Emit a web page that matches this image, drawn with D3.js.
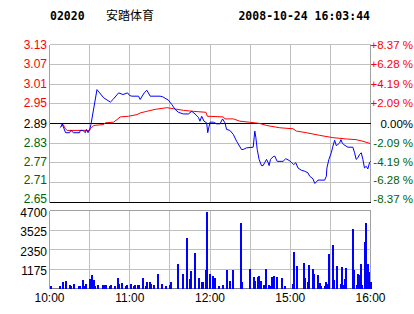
<!DOCTYPE html>
<html><head><meta charset="utf-8">
<script src="https://cdn.jsdelivr.net/npm/d3@7"></script>
<style>body{margin:0;background:#fff}svg{display:block}</style>
</head><body>
<svg id="c" width="414" height="314"></svg>
<script>
// ---------- data ----------
const stockCode = "02020";
const stockName = "安踏体育";
const stamp = "2008-10-24 16:03:44";
const prevClose = 2.89;
const priceTicks = [3.13, 3.07, 3.01, 2.95, 2.89, 2.83, 2.77, 2.71, 2.65];
const pctLabels = ["+8.37 %", "+6.28 %", "+4.19 %", "+2.09 %", "0.00%", "-2.09 %", "-4.19 %", "-6.28 %", "-8.37 %"];
const volTicks = [1175, 2350, 3525, 4700];
const timeTickMins = [0, 60, 120, 180, 240];
const timeTickLabels = ["10:00", "11:00", "12:00", "15:00", "16:00"];

// minutes of trading since 10:00 (12:30 and 14:30 joined at 150)
const priceMins = [8.5, 9.5, 12, 15, 16, 18, 22.5, 23, 25, 26.8, 27.6, 28.8, 30, 31, 35.5, 37.5, 40.5, 45.5, 47.5, 51.7, 54.9, 58.4, 59.9, 61.6, 66.6, 67.8, 70.8, 72.8, 75.3, 82.7, 84.7, 88.9, 91.4, 93.9, 96.4, 100, 103.8, 106.4, 108.8, 111.3, 112.5, 113.8, 115.5, 117.5, 118.3, 120, 122.5, 125, 127.5, 129.4, 131.2, 132.4, 134.9, 137.4, 139.9, 143.6, 144.8, 147.3, 152.3, 153.5, 154.3, 155.3, 156.7, 158.5, 159.7, 161, 162.3, 163.5, 164.2, 165.2, 167.2, 168.4, 170.2, 174.6, 176.6, 179.1, 180.9, 182.6, 184.1, 185.8, 188.3, 190.8, 193.3, 194.5, 197, 198.3, 199.5, 200.7, 205.7, 207, 207.4, 208.9, 210.7, 211.9, 213.2, 214.4, 215.6, 216.9, 217.9, 218.9, 219.9, 223.1, 226.8, 228.1, 229.3, 230.6, 231.8, 233.1, 234.3, 235.5, 236.8, 238, 239.3, 240];
const priceVals = [2.880, 2.889, 2.862, 2.862, 2.869, 2.862, 2.862, 2.869, 2.869, 2.862, 2.872, 2.862, 2.872, 2.887, 2.993, 2.983, 2.968, 2.955, 2.963, 2.983, 2.978, 2.983, 2.975, 2.973, 2.973, 2.963, 2.983, 2.991, 2.973, 2.973, 2.971, 2.961, 2.948, 2.933, 2.924, 2.919, 2.919, 2.927, 2.919, 2.909, 2.897, 2.912, 2.897, 2.892, 2.862, 2.894, 2.894, 2.889, 2.889, 2.904, 2.892, 2.872, 2.869, 2.857, 2.836, 2.811, 2.811, 2.816, 2.818, 2.867, 2.847, 2.811, 2.781, 2.762, 2.762, 2.772, 2.781, 2.771, 2.762, 2.781, 2.789, 2.791, 2.775, 2.775, 2.783, 2.778, 2.772, 2.765, 2.771, 2.755, 2.748, 2.745, 2.740, 2.730, 2.722, 2.708, 2.712, 2.718, 2.718, 2.730, 2.755, 2.781, 2.801, 2.821, 2.839, 2.823, 2.826, 2.831, 2.841, 2.831, 2.826, 2.818, 2.818, 2.801, 2.781, 2.786, 2.796, 2.801, 2.781, 2.755, 2.760, 2.752, 2.771, 2.775];

const avgMins = [7.7, 10.2, 11.9, 13.2, 30, 30.6, 33, 40.5, 41.7, 47.9, 50.5, 52.9, 59.1, 65.4, 67.8, 72.8, 79, 87.7, 92.6, 100.1, 107.5, 117, 118, 129.9, 131.2, 137.4, 142.4, 149.3, 153.5, 157.3, 162.3, 172.2, 182.1, 184.6, 192.1, 202, 211.9, 221.9, 229.3, 234.3, 240];
const avgVals = [2.877, 2.887, 2.874, 2.869, 2.869, 2.874, 2.884, 2.887, 2.892, 2.894, 2.902, 2.910, 2.912, 2.917, 2.922, 2.927, 2.933, 2.938, 2.935, 2.930, 2.927, 2.924, 2.912, 2.910, 2.904, 2.904, 2.897, 2.894, 2.892, 2.890, 2.884, 2.877, 2.874, 2.867, 2.862, 2.854, 2.847, 2.843, 2.841, 2.836, 2.829];

const volMins = [1, 8, 10, 12, 15, 16, 18, 22, 23, 25, 26, 27, 30, 31, 32, 33, 34, 36, 40, 41, 42, 45, 46, 49, 51, 52, 54, 57, 58, 61, 63, 64, 66, 67, 70, 72, 73, 75, 76, 78, 81, 84, 87, 90, 91, 96, 100, 103, 105, 106, 109, 112, 114, 115, 117, 118, 120, 122, 124, 127, 130, 133, 135, 137, 143, 144, 150, 153, 154, 156, 157, 158, 160, 162, 164, 165, 166, 168, 170, 174, 176, 182, 183, 185, 190, 191, 193, 194, 197, 198, 201, 202, 203, 206, 207, 208, 209, 212, 213, 215, 218, 219, 220, 221, 222, 227, 228, 230, 231, 232, 233, 234, 236, 237, 238, 239, 240];
const volVals = [140, 140, 380, 460, 200, 140, 260, 140, 140, 500, 140, 260, 560, 400, 800, 500, 140, 200, 200, 200, 200, 140, 200, 140, 620, 260, 340, 140, 200, 260, 140, 200, 200, 200, 620, 140, 400, 400, 260, 200, 860, 260, 140, 200, 400, 1460, 860, 3030, 560, 1040, 2130, 620, 400, 400, 1100, 4600, 860, 740, 620, 140, 200, 1100, 460, 1100, 3940, 400, 1160, 680, 460, 680, 740, 460, 200, 1160, 200, 140, 680, 740, 680, 620, 140, 260, 2190, 1350, 1520, 620, 400, 1410, 1160, 860, 800, 320, 140, 140, 380, 260, 2070, 2610, 500, 1350, 260, 1290, 200, 560, 1230, 3580, 1100, 200, 860, 800, 1460, 200, 2790, 3940, 1460, 980, 380];

// ---------- drawing ----------
const svg = d3.select("#c");
const L = 49.5, R = 370.5;
const x = d3.scaleLinear().domain([0, 240]).range([L, R]);
const y = d3.scaleLinear().domain([2.65, 3.13]).range([202.5, 44.5]);
const yv = d3.scaleLinear().domain([0, 4700]).range([288.5, 210.5]);
const GRID = "#c0c0c0", RED = "#ff0000", GREEN = "#006400", BLUE = "#0000ff";
const px = v => Math.round(v - 0.5) + 0.5;
const labelShift = [0, 0, 0, -1, 0, -0.5, -1.5, -3, -4];

// header
const hdr = svg.append("g").attr("font-family", "'DejaVu Sans Mono', monospace").attr("font-weight", "bold").attr("font-size", "11.5px");
hdr.append("text").attr("x", 50).attr("y", 20).text(stockCode);
svg.append("text").attr("x", 106).attr("y", 20).attr("font-family", "'Noto Sans CJK SC'").attr("font-size", "12px").text(stockName);
hdr.append("text").attr("x", 370).attr("y", 20).attr("text-anchor", "end").text(stamp);

const gl = svg.append("g").attr("shape-rendering", "crispEdges");
const vMins = d3.range(0, 241, 30);

// price grid
gl.selectAll(".pv").data(vMins).join("line")
  .attr("x1", d => px(x(d))).attr("x2", d => px(x(d)))
  .attr("y1", px(y(3.13))).attr("y2", px(y(2.65)))
  .attr("stroke", (d, i) => (i === 0 || i === 8) ? "#a0a0a0" : GRID);
gl.selectAll(".ph").data(priceTicks).join("line")
  .attr("x1", px(x(0))).attr("x2", px(x(240)))
  .attr("y1", d => px(y(d))).attr("y2", d => px(y(d)))
  .attr("stroke", d => (d === prevClose || d === 2.65) ? "#000" : GRID);

// volume grid
gl.selectAll(".vv").data(vMins).join("line")
  .attr("x1", d => px(x(d))).attr("x2", d => px(x(d)))
  .attr("y1", px(yv(4700))).attr("y2", px(yv(0)))
  .attr("stroke", (d, i) => (i === 0 || i === 8) ? "#a0a0a0" : GRID);
gl.selectAll(".vh").data([0].concat(volTicks)).join("line")
  .attr("x1", px(x(0))).attr("x2", px(x(240)))
  .attr("y1", d => px(yv(d))).attr("y2", d => px(yv(d)))
  .attr("stroke", d => d === 0 ? "#808080" : (d === 4700 ? "#a0a0a0" : GRID));

// axis labels
const lab = svg.append("g").attr("font-family", "'Liberation Sans', Arial, sans-serif").attr("font-size", "12px");
const tcol = d => d > prevClose + 1e-9 ? RED : (d < prevClose - 1e-9 ? GREEN : "#000");
lab.selectAll(".pl").data(priceTicks).join("text")
  .attr("x", 47).attr("y", (d, i) => y(d) + labelShift[i]).attr("dy", "0.35em").attr("text-anchor", "end")
  .attr("fill", tcol).text(d => d.toFixed(2));
lab.selectAll(".pr").data(priceTicks).join("text")
  .attr("x", 413).attr("y", (d, i) => y(d) + labelShift[i]).attr("dy", "0.35em")
  .attr("text-anchor", "end").attr("font-size", "11.5px")
  .attr("fill", tcol).text((d, i) => pctLabels[i]);
lab.selectAll(".vl").data(volTicks).join("text")
  .attr("x", 47).attr("y", d => yv(d) + 2).attr("dy", "0.35em").attr("text-anchor", "end")
  .attr("fill", "#000").text(d => d);
lab.selectAll(".tl").data(timeTickMins).join("text")
  .attr("x", d => x(d)).attr("y", 298).attr("dy", "0.35em").attr("text-anchor", "middle")
  .attr("fill", "#000").text((d, i) => timeTickLabels[i]);

// volume bars
svg.append("g").attr("shape-rendering", "crispEdges").selectAll("rect").data(volMins).join("rect")
  .attr("x", d => Math.round(x(d)) - 1).attr("width", 1.5)
  .attr("y", (d, i) => yv(volVals[i])).attr("height", (d, i) => yv(0) - yv(volVals[i]))
  .attr("fill", BLUE);

// lines
const line = d3.line().x(d => x(d[0])).y(d => y(d[1]));
svg.append("path").datum(avgMins.map((m, i) => [m, avgVals[i]]))
  .attr("d", line).attr("fill", "none").attr("stroke", RED).attr("stroke-width", 1);
svg.append("path").datum(priceMins.map((m, i) => [m, priceVals[i]]))
  .attr("d", line).attr("fill", "none").attr("stroke", BLUE).attr("stroke-width", 1);
</script>
</body></html>
